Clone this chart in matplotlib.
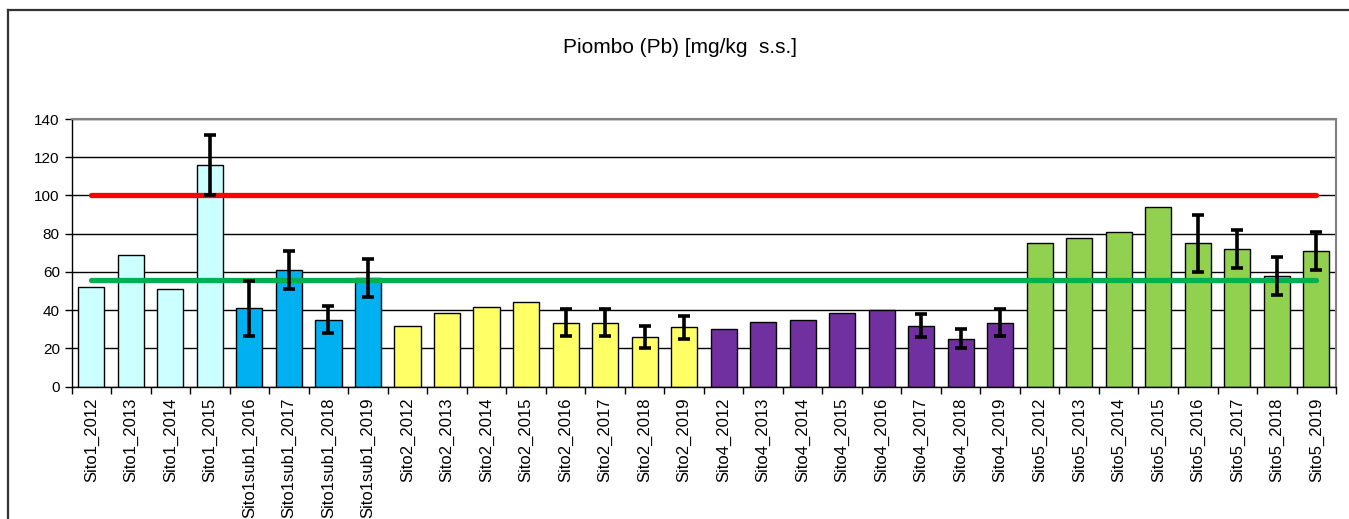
import numpy as np
import matplotlib
matplotlib.use('Agg')
import matplotlib.pyplot as plt
from matplotlib.lines import Line2D

plt.rcParams['font.family'] = ['Liberation Sans', 'DejaVu Sans']

# categories and values (mg/kg s.s.)
labels = ['Sito1_2012', 'Sito1_2013', 'Sito1_2014', 'Sito1_2015',
          'Sito1sub1_2016', 'Sito1sub1_2017', 'Sito1sub1_2018', 'Sito1sub1_2019',
          'Sito2_2012', 'Sito2_2013', 'Sito2_2014', 'Sito2_2015',
          'Sito2_2016', 'Sito2_2017', 'Sito2_2018', 'Sito2_2019',
          'Sito4_2012', 'Sito4_2013', 'Sito4_2014', 'Sito4_2015',
          'Sito4_2016', 'Sito4_2017', 'Sito4_2018', 'Sito4_2019',
          'Sito5_2012', 'Sito5_2013', 'Sito5_2014', 'Sito5_2015',
          'Sito5_2016', 'Sito5_2017', 'Sito5_2018', 'Sito5_2019']
values = [52, 69, 51, 116,
          41, 61, 35, 57,
          32, 38.5, 41.5, 44.5,
          33.5, 33.5, 26, 31,
          30, 34, 35, 38.5,
          40, 32, 25, 33.5,
          75, 78, 81, 94,
          75, 72, 58, 71]
errors = [0, 0, 0, 15.5,
          14.5, 10, 7, 10,
          0, 0, 0, 0,
          7, 7, 5.5, 6,
          0, 0, 0, 0,
          0, 6, 5, 7,
          0, 0, 0, 0,
          15, 10, 10, 10]
groups = ['Sito1', 'Sito1sub1', 'Sito2', 'Sito4', 'Sito5']
group_colors = {'Sito1': '#CCFFFF', 'Sito1sub1': '#00B0F0', 'Sito2': '#FFFF66',
                'Sito4': '#7030A0', 'Sito5': '#92D050'}
limit_red = 100
limit_green = 56

fig = plt.figure(figsize=(13.49, 5.19), dpi=100)
ax = fig.add_axes([0.0531, 0.2549, 0.9373, 0.5158])

x = np.arange(len(labels))
colors = [group_colors[lab.rsplit('_', 1)[0]] for lab in labels]
ax.bar(x, values, width=0.66, color=colors, edgecolor='black', linewidth=1.0, zorder=2)

# error bars only where present
idx = [i for i, e in enumerate(errors) if e > 0]
ax.errorbar(x[idx], [values[i] for i in idx], yerr=[errors[i] for i in idx],
            fmt='none', ecolor='black', elinewidth=2.6, capsize=4.5, capthick=2.6, zorder=4)

# reference lines
ax.plot(x, [limit_red] * len(x), color='#FF0000', linewidth=3.8, solid_capstyle='round', zorder=3)
ax.plot(x, [limit_green] * len(x), color='#00B050', linewidth=3.8, solid_capstyle='round', zorder=3)

ax.set_xlim(-0.5, len(labels) - 0.5)
ax.set_ylim(0, 140)
ax.set_yticks(np.arange(0, 141, 20))
ax.yaxis.grid(True, color='black', linewidth=1.0, zorder=0)
ax.set_axisbelow(True)

ax.set_xticks(x)
ax.set_xticklabels(labels, rotation=90, fontsize=12)
ax.set_xticks(np.arange(-0.5, len(labels), 1), minor=True)
ax.tick_params(axis='x', which='major', length=0, pad=8)
ax.tick_params(axis='x', which='minor', length=5, width=1, direction='out')
ax.tick_params(axis='y', labelsize=11, length=5, width=1, direction='out')

for s in ['left', 'bottom']:
    ax.spines[s].set_color('black')
    ax.spines[s].set_linewidth(1.0)
for s in ['top', 'right']:
    ax.spines[s].set_color('#808080')
    ax.spines[s].set_linewidth(1.5)

fig.text(0.504, 0.909, 'Piombo (Pb) [mg/kg  s.s.]', ha='center', va='center', fontsize=15)

# chart border (left and top visible)
fig.add_artist(Line2D([7.5 / 1349, 7.5 / 1349], [0, 1 - 9.5 / 519], transform=fig.transFigure,
                      color='#333333', linewidth=1.6))
fig.add_artist(Line2D([7.5 / 1349, 1], [1 - 9.5 / 519, 1 - 9.5 / 519], transform=fig.transFigure,
                      color='#333333', linewidth=1.6))

fig.savefig('out.png', dpi=100)
